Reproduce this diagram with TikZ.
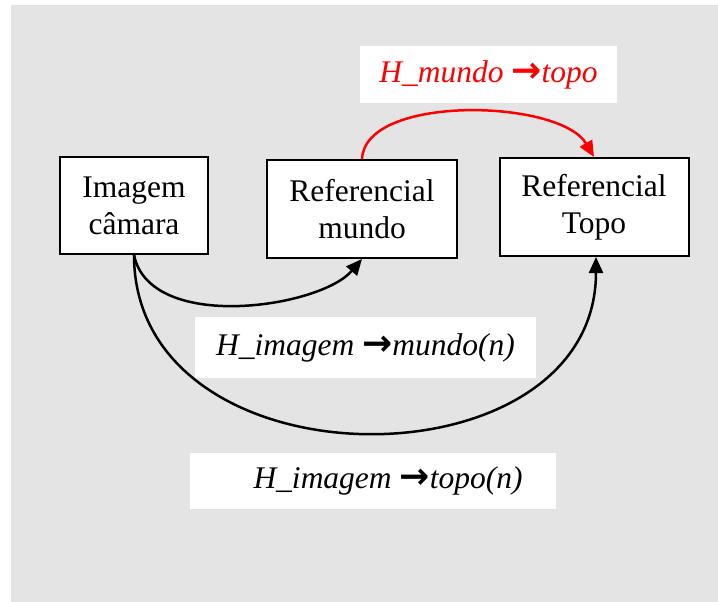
\documentclass[tikz,border=0pt]{standalone}
\usepackage{fontspec}
\setmainfont{Liberation Serif}
\newfontfamily\arrowfont{DejaVu Sans}
\usetikzlibrary{arrows.meta}
\definecolor{panel}{HTML}{E4E4E4}
% bold arrow glyph used inside the transformation labels
\newcommand{\maparrow}{{\arrowfont\fontsize{36}{36}\selectfont\bfseries\upshape →}}
\tikzset{
  frame/.style={draw=black, line width=2pt, fill=white, align=center,
    font=\fontsize{31.5}{37}\selectfont, inner sep=0pt},
  labelbox/.style={fill=white, inner sep=0pt},
  labeltext/.style={font=\fontsize{31.5}{37}\selectfont\itshape, inner sep=0pt},
  link/.style={line width=2.5pt, -{Triangle[length=16pt,width=14pt]}},
}
\begin{document}
\begin{tikzpicture}[x=1pt, y=-1pt]
  \useasboundingbox (0,0) rectangle (718,602);
  \fill[panel] (11,5) rectangle (718,602);

  % reference frames
  \node[frame, minimum width=148pt, minimum height=97pt] (cam) at (134,205.5) {Imagem\\câmara};
  \node[frame, minimum width=190pt, minimum height=98pt] (mundo) at (362,209) {Referencial\\mundo};
  \node[frame, minimum width=189pt, minimum height=98pt] (topo) at (594,207) {Referencial\\Topo};

  % homographies between the frames
  \draw[link, red] (mundo.north) .. controls +(3,-65) and +(-34,-58) .. (topo.north);
  \draw[link] (cam.south) .. controls +(16,78) and +(-42,49) .. (mundo.south);
  \draw[link] (cam.south) .. controls +(0,236) and +(0,234) .. ([xshift=2pt]topo.south);

  % labels
  \node[labelbox, minimum width=257pt, minimum height=57pt, labeltext, text=red]
    (lblMT) at (488.5,74.5) {H\_mundo \maparrow topo};
  \node[labelbox, minimum width=341pt, minimum height=61pt, labeltext]
    (lblIM) at (365.5,347.5) {H\_imagem \maparrow mundo(n)};
  \node[labelbox, minimum width=366pt, minimum height=56pt] (lblITbox) at (373,481) {};
  \node[labeltext] (lblIT) at (388,481) {H\_imagem \maparrow topo(n)};
\end{tikzpicture}
\end{document}
